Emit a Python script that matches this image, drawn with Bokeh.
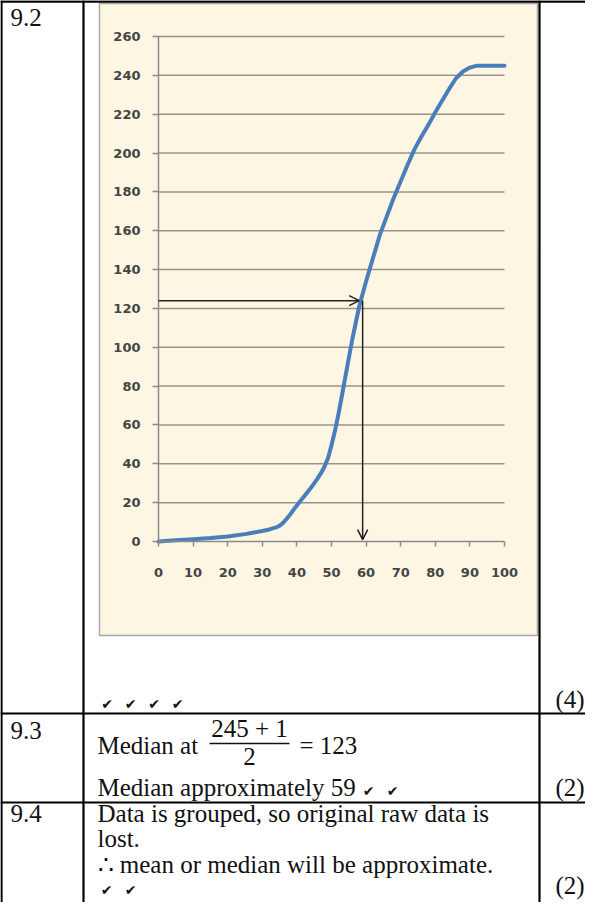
from bokeh.plotting import figure
from bokeh.models import Range1d, LinearAxis, FixedTicker, Arrow, OpenHead
from bokeh.core.properties import value
from bokeh.embed import file_html
from bokeh.resources import INLINE

# ---------------- data ----------------
cum_x = [0, 5, 10, 15, 20, 25, 30, 32, 34, 35, 36, 37, 38, 39, 40, 41, 42, 44,
         46, 47, 48, 49, 50, 51, 52, 53, 54, 56, 58, 60, 62, 64, 66, 68, 70, 72,
         74, 76, 78, 80, 82, 84, 86, 88, 90, 92, 95, 100]
cum_y = [0, 0.6, 1.2, 1.8, 2.6, 3.8, 5.4, 6.2, 7.3, 8.1, 9.6, 11.6, 13.8, 16.2,
         18.6, 20.8, 23, 27.5, 32.5, 35.3, 38.6, 43, 49.5, 57, 65.5, 75, 84.8,
         104, 121, 134, 146, 158, 167.5, 177, 185.5, 194, 202, 208.5, 214.5, 221,
         227, 233, 238.5, 242, 244, 245, 245, 245]
x_ticks = [0, 10, 20, 30, 40, 50, 60, 70, 80, 90, 100]
y_ticks = [0, 20, 40, 60, 80, 100, 120, 140, 160, 180, 200, 220, 240, 260]
median_level = 124      # height of the horizontal arrow
h_arrow_end = 58        # where the horizontal arrow stops
median_value = 59       # vertical arrow

row_labels = ["9.2", "9.3", "9.4"]
marks = ["(4)", "(2)", "(2)"]
text_lines = ["Median at", "= 123", "Median approximately 59",
              "Data is grouped, so original raw data is", "lost.",
              "\u2234 mean or median will be approximate."]
fraction_num = "245 + 1"
fraction_den = "2"

# ---------------- layout constants (page pixels) ----------------
W, H = 585, 902
PX0, PX1 = 8, 8 + W          # page x covered by the figure
PY0, PY1 = 8, 8 + H          # page y covered by the figure
CH_L, CH_R = 166, 512        # chart x=0 / x=100
CH_B, CH_T = 549, 44         # chart y=0 / y=260

BEIGE = "#FDF6E3"
GRID = "#989388"
AXIS = "#8A8A8A"
BLUE = "#4A7EBB"
INK = "#111111"
SERIF = value("Liberation Serif")
FS = value("25px")

p = figure(width=W, height=H, output_backend="svg", toolbar_location=None,
           x_range=Range1d(PX0, PX1), y_range=Range1d(PY1, PY0),
           x_axis_location=None, y_axis_location=None, min_border=0,
           outline_line_color=None, background_fill_color="white",
           border_fill_color="white")
p.center = []

# chart ranges mapped onto the page
sx = (CH_R - CH_L) / 100.0
sy = (CH_B - CH_T) / 260.0
p.extra_x_ranges = {"cx": Range1d(0 - (CH_L - PX0) / sx, 100 + (PX1 - CH_R) / sx)}
p.extra_y_ranges = {"cy": Range1d(0 - (PY1 - CH_B) / sy, 260 + (CH_T - PY0) / sy)}

# ---------------- table ----------------
p.quad(left=107, right=545, top=11, bottom=643, fill_color=BEIGE,
       line_color="#A8A8A8", line_width=1.5)
# vertical rules
p.segment(x0=[9, 91, 547], x1=[9, 91, 547], y0=[8, 8, 8], y1=[910, 910, 910],
          line_color="black", line_width=2.2)
# horizontal rules
p.segment(x0=[8, 8, 8], x1=[593, 593, 593], y0=[9, 721, 810], y1=[9, 721, 810],
          line_color="black", line_width=[2.6, 2.2, 2.2])

# ---------------- chart ----------------
p.segment(x0=0, x1=100, y0=y_ticks[1:], y1=y_ticks[1:], x_range_name="cx",
          y_range_name="cy", line_color=GRID, line_width=1.5)

xax = LinearAxis(x_range_name="cx", y_range_name="cy", fixed_location=0,
                 bounds=(0, 100), ticker=FixedTicker(ticks=x_ticks, minor_ticks=[]))
yax = LinearAxis(x_range_name="cx", y_range_name="cy", fixed_location=0,
                 bounds=(0, 260), ticker=FixedTicker(ticks=y_ticks, minor_ticks=[]))
for ax in (xax, yax):
    ax.axis_line_color = AXIS
    ax.axis_line_width = 1.5
    ax.major_tick_line_color = AXIS
    ax.major_tick_line_width = 1.5
    ax.major_tick_in = 0
    ax.minor_tick_in = 0
    ax.minor_tick_out = 0
    ax.major_label_text_font = "DejaVu Sans"
    ax.major_label_text_font_size = "13px"
    ax.major_label_text_font_style = "bold"
    ax.major_label_text_color = "#454545"
xax.major_tick_out = 5
xax.major_label_standoff = 21
yax.major_tick_out = 6
yax.major_label_standoff = 12
p.add_layout(xax, "below")
p.add_layout(yax, "left")

p.line(cum_x, cum_y, x_range_name="cx", y_range_name="cy", line_color=BLUE,
       line_width=4, line_join="round", line_cap="round")

p.add_layout(Arrow(end=OpenHead(size=10, line_color="#222222", line_width=1.5),
                   x_start=0, y_start=median_level, x_end=h_arrow_end, y_end=median_level,
                   x_range_name="cx", y_range_name="cy",
                   line_color="#222222", line_width=1.5))
p.add_layout(Arrow(end=OpenHead(size=10, line_color="#222222", line_width=1.5),
                   x_start=median_value, y_start=median_level, x_end=median_value, y_end=1,
                   x_range_name="cx", y_range_name="cy",
                   line_color="#222222", line_width=1.5))

# ---------------- texts (vertical centres, page pixels) ----------------
p.text(x=[18, 18, 18], y=[25, 738, 821], text=row_labels, text_font=SERIF,
       text_font_size=FS, text_color=INK, text_baseline="middle")
p.text(x=[563, 563, 563], y=[707, 795, 893], text=marks, text_font=SERIF,
       text_font_size=FS, text_color=INK, text_baseline="middle")
p.text(x=[105, 307, 105, 105, 105, 105], y=[753, 753, 795, 821, 846, 872],
       text=text_lines, text_font=SERIF, text_font_size=FS, text_color=INK,
       text_baseline="middle")
p.text(x=[257, 257], y=[736, 764], text=[fraction_num, fraction_den], text_font=SERIF,
       text_font_size=FS, text_color=INK, text_baseline="middle", text_align="center")
p.segment(x0=[217], x1=[297], y0=[751], y1=[751], line_color=INK, line_width=1.5)

chk_x = [114.5, 138, 161.5, 185, 376, 400, 114, 138]
chk_y = [711, 711, 711, 711, 798, 798, 897, 897]
p.text(x=chk_x, y=chk_y, text=["\u2714"] * len(chk_x), text_font=value("DejaVu Sans"),
       text_font_size=value("14px"), text_color=INK, text_align="center",
       text_baseline="middle")

open("out.html", "w").write(file_html(p, INLINE))
